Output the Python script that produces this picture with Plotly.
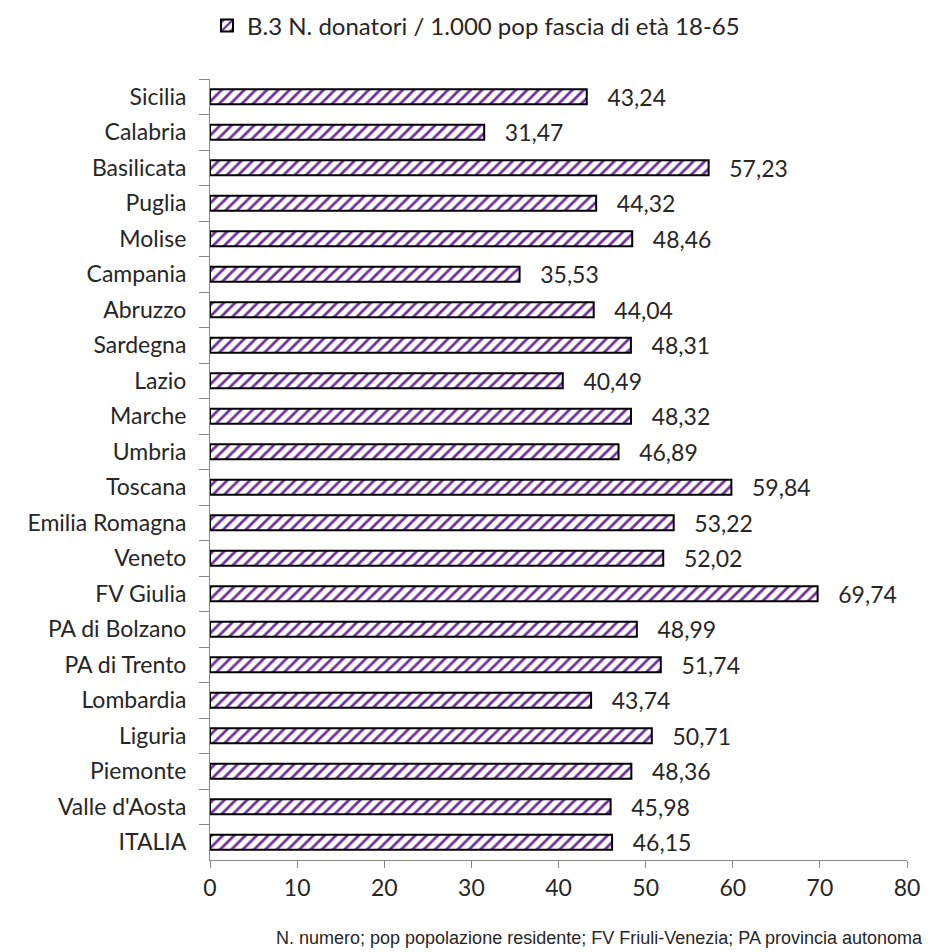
import plotly.graph_objects as go

regions = ["Sicilia", "Calabria", "Basilicata", "Puglia", "Molise", "Campania", "Abruzzo",
           "Sardegna", "Lazio", "Marche", "Umbria", "Toscana", "Emilia Romagna", "Veneto",
           "FV Giulia", "PA di Bolzano", "PA di Trento", "Lombardia", "Liguria", "Piemonte",
           "Valle d'Aosta", "ITALIA"]
values = [43.24, 31.47, 57.23, 44.32, 48.46, 35.53, 44.04, 48.31, 40.49, 48.32, 46.89,
          59.84, 53.22, 52.02, 69.74, 48.99, 51.74, 43.74, 50.71, 48.36, 45.98, 46.15]
x_ticks = [0, 10, 20, 30, 40, 50, 60, 70, 80]
series_name = "B.3 N. donatori / 1.000 pop fascia di età 18-65"
footnote = "N. numero; pop popolazione residente; FV Friuli-Venezia; PA provincia autonoma"

labels = [f"{v:.2f}".replace(".", ",") for v in values]
FONT = "Lato, Open Sans, sans-serif"

W, H = 932, 952
L, R, T, B = 210, 19, 79, 92
pw, ph = W - L - R, H - T - B

fig = go.Figure(go.Bar(
    y=regions, x=values, orientation="h", name=series_name,
    text=labels, texttemplate="\u00a0\u00a0\u00a0%{text}",
    textposition="outside", cliponaxis=False, constraintext="none",
    textfont=dict(size=23, color="#262626", family=FONT),
    width=0.42,
    marker=dict(color="white", line=dict(color="black", width=2),
                pattern=dict(shape="/", fgcolor="#7030A0", bgcolor="white",
                             size=8, solidity=0.35, fillmode="replace")),
    showlegend=True,
))

fig.update_layout(
    width=W, height=H,
    margin=dict(l=L, r=R, t=T, b=B),
    plot_bgcolor="white", paper_bgcolor="white",
    font=dict(family=FONT, size=23, color="#262626"),
    legend=dict(orientation="h", xref="container", yref="container",
                x=0.5 + 10 / W, xanchor="center", y=1 - 26 / H, yanchor="middle",
                font=dict(size=24, family=FONT, color="#262626"), itemwidth=30),
    xaxis=dict(range=[0, 80], tickvals=x_ticks, ticks="outside", ticklen=7,
               tickcolor="#898989", showline=True, linecolor="#898989", linewidth=1,
               showgrid=False, zeroline=False, tickfont=dict(size=23)),
    yaxis=dict(autorange="reversed", ticks="outside", tickson="boundaries",
               ticklen=10, tickcolor="#898989", showline=True, linecolor="#898989",
               linewidth=1, showgrid=False, tickfont=dict(size=23), ticklabelstandoff=18),
    annotations=[dict(text=footnote, xref="paper", yref="paper",
                      x=(W - 1 - L) / pw, y=-(938 - (H - B)) / ph,
                      xanchor="right", yanchor="middle", showarrow=False,
                      font=dict(family="Liberation Sans, Arial", size=18, color="#262626"))],
)

fig.write_html("out.html")
